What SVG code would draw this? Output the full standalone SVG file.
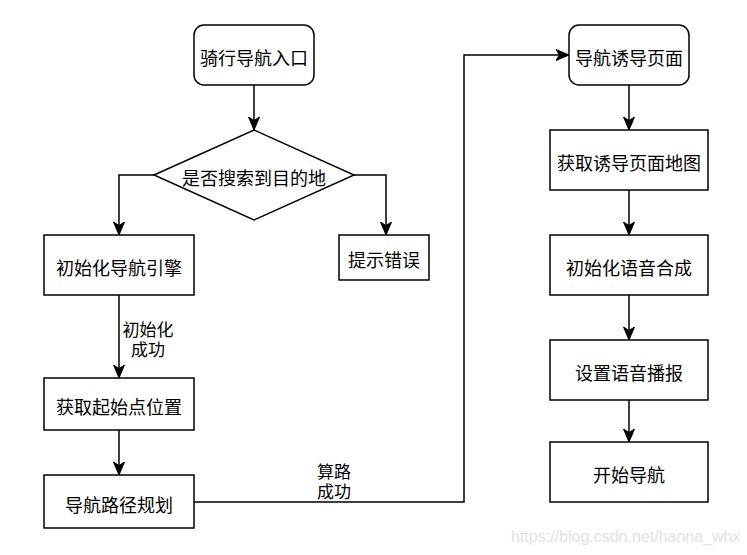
<svg xmlns="http://www.w3.org/2000/svg" width="747" height="555" viewBox="0 0 747 555">
<style>
.n{fill:#fff;stroke:#000;stroke-width:1.5}
.t{font-family:"Noto Sans CJK SC","Noto Sans",sans-serif;font-size:18px;fill:#000;text-anchor:middle;dominant-baseline:central}
.l{font-family:"Noto Sans CJK SC","Noto Sans",sans-serif;font-size:17px;fill:#000;text-anchor:middle;dominant-baseline:central}
.e{fill:none;stroke:#000;stroke-width:1.5}
.wm{font-family:"Liberation Sans",Arial,sans-serif;font-size:16px;fill:#e2e2e2}
</style>
<defs>
<marker id="a" markerUnits="userSpaceOnUse" markerWidth="16" markerHeight="14" refX="13" refY="7" orient="auto">
<path d="M0,1.5 L13,7 L0,12.5 L3.5,7 z" fill="#000" stroke="#000" stroke-width="1"/>
</marker>
</defs>
<rect width="747" height="555" fill="#fff"/>
<g id="edges">
<path class="e" d="M254,85 V130" marker-end="url(#a)"/>
<path class="e" d="M154,175 H119 V235" marker-end="url(#a)"/>
<path class="e" d="M354,175 H386 V235" marker-end="url(#a)"/>
<path class="e" d="M119,295 V378" marker-end="url(#a)"/>
<path class="e" d="M119,430 V475" marker-end="url(#a)"/>
<path class="e" d="M194,502 H464 V55 H569" marker-end="url(#a)"/>
<path class="e" d="M629,85 V130" marker-end="url(#a)"/>
<path class="e" d="M629,190 V235" marker-end="url(#a)"/>
<path class="e" d="M629,295 V340" marker-end="url(#a)"/>
<path class="e" d="M629,400 V442" marker-end="url(#a)"/>
<text class="l" x="148" y="328"><tspan x="148">初始化</tspan><tspan x="148" dy="19.5">成功</tspan></text>
<text class="l" x="334" y="470"><tspan x="334">算路</tspan><tspan x="334" dy="19.5">成功</tspan></text>
</g>
<g id="start">
<rect class="n" x="194" y="25" width="120" height="60" rx="10"/>
<text class="t" x="254" y="57">骑行导航入口</text>
</g>
<g id="decision">
<polygon class="n" points="154,175 254,130 354,175 254,220"/>
<text class="t" x="254" y="177">是否搜索到目的地</text>
</g>
<g id="initEngine">
<rect class="n" x="44" y="235" width="150" height="60"/>
<text class="t" x="119" y="267">初始化导航引擎</text>
</g>
<g id="error">
<rect class="n" x="339" y="235" width="90" height="45"/>
<text class="t" x="384" y="259">提示错误</text>
</g>
<g id="getStart">
<rect class="n" x="44" y="378" width="150" height="52"/>
<text class="t" x="119" y="406">获取起始点位置</text>
</g>
<g id="plan">
<rect class="n" x="44" y="475" width="150" height="53"/>
<text class="t" x="119" y="504">导航路径规划</text>
</g>
<g id="guidePage">
<rect class="n" x="569" y="25" width="120" height="60" rx="10"/>
<text class="t" x="629" y="57">导航诱导页面</text>
</g>
<g id="getMap">
<rect class="n" x="550" y="130" width="158" height="60"/>
<text class="t" x="629" y="162">获取诱导页面地图</text>
</g>
<g id="initTTS">
<rect class="n" x="550" y="235" width="158" height="60"/>
<text class="t" x="629" y="267">初始化语音合成</text>
</g>
<g id="setVoice">
<rect class="n" x="550" y="340" width="158" height="60"/>
<text class="t" x="629" y="372">设置语音播报</text>
</g>
<g id="startNav">
<rect class="n" x="550" y="442" width="158" height="60"/>
<text class="t" x="629" y="474">开始导航</text>
</g>
<text class="wm" x="511" y="542">https://blog.csdn.net/hanna_whx</text>
</svg>
